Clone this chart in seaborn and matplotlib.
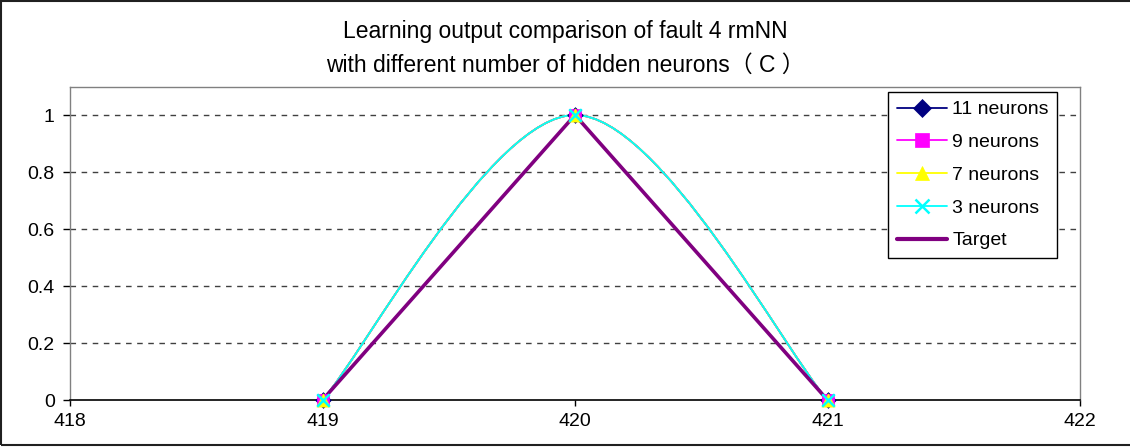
import numpy as np
import matplotlib
matplotlib.use("Agg")
import matplotlib.pyplot as plt
import seaborn as sns
from matplotlib.path import Path
from matplotlib.patches import PathPatch, Rectangle
from matplotlib.lines import Line2D

# ---- data ----
x_vals = [419, 420, 421]
y_11 = [0, 1, 0]
y_9 = [0, 1, 0]
y_7 = [0, 1, 0]
y_3 = [0, 1, 0]
y_target = [0, 1, 0]
series_labels = ["11 neurons", "9 neurons", "7 neurons", "3 neurons", "Target"]
x_ticks = [418, 419, 420, 421, 422]
y_ticks = [0, 0.2, 0.4, 0.6, 0.8, 1]
title = "Learning output comparison of fault 4 rmNN\nwith different number of hidden neurons（ C ）"

sns.set_theme(style="white")
plt.rcParams["font.family"] = ["Liberation Sans", "Noto Sans CJK SC", "DejaVu Sans"]
plt.rcParams["text.color"] = "black"

W, H = 1130, 448
fig = plt.figure(figsize=(W / 100, H / 100), dpi=100)
ax = fig.add_axes([70 / W, 1 - 400 / H, (1080 - 70) / W, (400 - 86.5) / H])


def smooth_path(xs, ys):
    """Excel-style smoothed line: cubic Bezier segments with 1/6 tangents."""
    pts = np.column_stack([xs, ys]).astype(float)
    n = len(pts)
    verts = [pts[0]]
    codes = [Path.MOVETO]
    for i in range(n - 1):
        p_prev = pts[i - 1] if i > 0 else pts[i]
        p0 = pts[i]
        p1 = pts[i + 1]
        p_next = pts[i + 2] if i + 2 < n else pts[i + 1]
        c1 = p0 + (p1 - p_prev) / 6.0
        c2 = p1 - (p_next - p0) / 6.0
        verts += [c1, c2, p1]
        codes += [Path.CURVE4] * 3
    return Path(verts, codes)


specs = [
    (y_11, "#000080", "D", 8),
    (y_9, "#FF00FF", "s", 8.5),
    (y_7, "#FFFF00", "^", 9.5),
    (y_3, "#00FFFF", "x", 9),
]

for ys, col, mk, ms in specs:
    ax.add_patch(PathPatch(smooth_path(x_vals, ys), facecolor="none",
                           edgecolor=col, lw=1.3, zorder=3))

sns.lineplot(x=x_vals, y=y_target, ax=ax, color="#800080", linewidth=2.6, zorder=4)

for ys, col, mk, ms in specs:
    sns.scatterplot(x=x_vals, y=ys, ax=ax, color=col, marker=mk, s=ms ** 2,
                    edgecolor=col, linewidth=1.8 if mk == "x" else 0.5,
                    zorder=5, clip_on=False)

ax.set_xlim(418, 422)
ax.set_ylim(0, 1.1)
ax.set_xticks(x_ticks)
ax.set_xticklabels([str(t) for t in x_ticks])
ax.set_yticks(y_ticks)
ax.set_yticklabels(["0", "0.2", "0.4", "0.6", "0.8", "1"])
ax.set_xlabel("")
ax.set_ylabel("")
ax.tick_params(axis="both", labelsize=14, colors="black", direction="out",
               width=1)
ax.tick_params(axis="x", pad=5, length=4)
ax.tick_params(axis="y", pad=6, length=5)
ax.xaxis.set_ticks_position("bottom")
ax.yaxis.set_ticks_position("left")

for yv in y_ticks[1:]:
    ax.axhline(yv, color="#404040", lw=1, ls=(0, (4, 4)), zorder=1)

for s in ["top", "right", "left"]:
    ax.spines[s].set_color("#808080")
    ax.spines[s].set_linewidth(1)
ax.spines["bottom"].set_color("black")
ax.spines["bottom"].set_linewidth(1.2)
for s in ax.spines.values():
    s.set_visible(True)

fig.text(0.5, 1 - 48.5 / H, title, ha="center", va="center", fontsize=16.5,
         linespacing=1.6, color="black")

handles = [Line2D([], [], color=c, marker=m, markersize=ms + 1, markeredgecolor=c,
                  markeredgewidth=1.8 if m == "x" else 0.5, lw=1.3)
           for _, c, m, ms in specs]
handles.append(Line2D([], [], color="#800080", lw=3.0))
leg = fig.legend(handles, series_labels, loc="upper left",
                 bbox_to_anchor=(888 / W, 1 - 92 / H), borderaxespad=0,
                 fontsize=14, frameon=True, fancybox=False, handlelength=2.6,
                 handletextpad=0.25, labelspacing=0.78, borderpad=0.45)
leg.get_frame().set_edgecolor("black")
leg.get_frame().set_linewidth(1)
leg.get_frame().set_facecolor("white")
leg.get_frame().set_alpha(1)
for t in leg.get_texts():
    t.set_color("black")

# outer chart border
fig.patches.append(Rectangle((1 / W, 3 / H), 1.2, 1 - 4 / H, transform=fig.transFigure,
                             fill=False, edgecolor="#202020", lw=1.5))

fig.savefig("out.png", dpi=100, facecolor="white")
